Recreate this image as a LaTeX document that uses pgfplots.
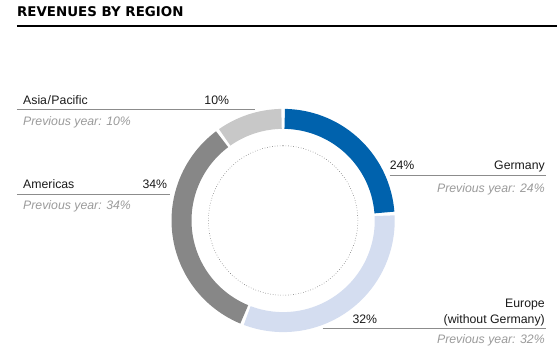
\documentclass[border=0pt]{standalone}
\usepackage{pgfplots}
\pgfplotsset{compat=1.18}
\usepackage{fontspec}
\setmainfont{Liberation Sans}
\newfontfamily\titlefont{DejaVu Sans}
\definecolor{cBlue}{HTML}{0062AD}
\definecolor{cLightBlue}{HTML}{D4DDF0}
\definecolor{cDark}{HTML}{878787}
\definecolor{cLight}{HTML}{C8C8C8}
\definecolor{cText}{HTML}{1A1A1A}
\definecolor{cPrev}{HTML}{9A9A9A}
\definecolor{cRule}{HTML}{8C8C8C}
\begin{document}
\begin{tikzpicture}
\begin{axis}[width=558pt,height=353pt,scale only axis,
  xmin=0,xmax=558,ymin=0,ymax=353,y dir=reverse,
  hide axis,clip=false]
\path (axis cs:0,0) rectangle (axis cs:558,353);
% donut segments: parameter = cumulative share in percent (Germany 24, Europe 32, Americas 34, Asia/Pacific 10)
\def\cx{283.4}\def\cy{220.7}\def\rr{101.7}
\addplot[cBlue, line width=20pt, domain=0.25:23.75, samples=80] ({\cx+\rr*sin(3.6*x)},{\cy-\rr*cos(3.6*x)});
\addplot[cLightBlue, line width=20pt, domain=24.25:55.75, samples=100] ({\cx+\rr*sin(3.6*x)},{\cy-\rr*cos(3.6*x)});
\addplot[cDark, line width=20pt, domain=56.25:89.75, samples=100] ({\cx+\rr*sin(3.6*x)},{\cy-\rr*cos(3.6*x)});
\addplot[cLight, line width=20pt, domain=90.25:99.75, samples=40] ({\cx+\rr*sin(3.6*x)},{\cy-\rr*cos(3.6*x)});
% inner dotted circle
\addplot[black!60, line width=0.55pt, dotted, domain=0:100, samples=200] ({\cx+74.8*sin(3.6*x)},{\cy-74.8*cos(3.6*x)});
% title
\node[anchor=base west, inner sep=0, text=black] at (axis cs:17,17) {\titlefont\fontsize{13.4}{15}\selectfont\bfseries REVENUES BY REGION};
\draw[black, line width=1.1pt] (axis cs:17,26) -- (axis cs:558,26);
% labels
\tikzset{lbl/.style={inner sep=0, text=cText, font=\fontsize{12.3}{14}\selectfont},
         prev/.style={inner sep=0, text=cPrev, font=\fontsize{12.3}{14}\selectfont\itshape}}
% Asia/Pacific
\node[lbl, anchor=base west] at (axis cs:23,105) {Asia\kern0.5pt/\kern0.5pt Pacific};
\node[lbl, anchor=base east] at (axis cs:229.5,105) {10\%};
\draw[cRule, line width=0.9pt] (axis cs:17,109.6) -- (axis cs:255,109.6);
\node[prev, anchor=base west] at (axis cs:23,126) {Previous year: 10\%};
% Americas
\node[lbl, anchor=base west] at (axis cs:23,188.5) {Americas};
\node[lbl, anchor=base east] at (axis cs:167.5,188.5) {34\%};
\draw[cRule, line width=0.9pt] (axis cs:17,195) -- (axis cs:170,195);
\node[prev, anchor=base west] at (axis cs:23,209.5) {Previous year: 34\%};
% Germany
\node[lbl, anchor=base west] at (axis cs:390,169.4) {24\%};
\node[lbl, anchor=base east] at (axis cs:545.5,169.4) {Germany};
\draw[cRule, line width=0.9pt] (axis cs:390,176) -- (axis cs:547,176);
\node[prev, anchor=base east] at (axis cs:545.5,192.8) {Previous year: 24\%};
% Europe
\node[lbl, anchor=base east] at (axis cs:545.5,307.3) {Europe};
\node[lbl, anchor=base east] at (axis cs:545.5,324.3) {(without Germany)};
\node[lbl, anchor=base west] at (axis cs:352.7,324.3) {32\%};
\draw[cRule, line width=0.9pt] (axis cs:323,329) -- (axis cs:547,329);
\node[prev, anchor=base east] at (axis cs:545.5,344.3) {Previous year: 32\%};
\end{axis}
\end{tikzpicture}
\end{document}
